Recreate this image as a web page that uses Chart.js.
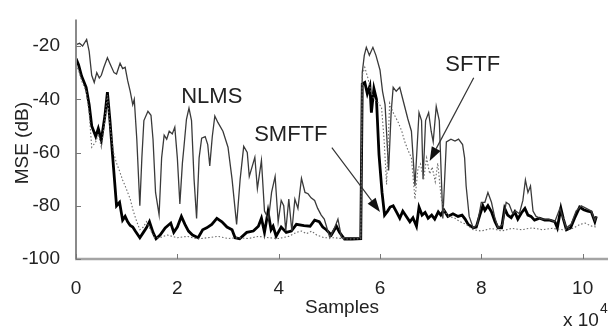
<!DOCTYPE html>
<html><head><meta charset="utf-8">
<script src="https://cdn.jsdelivr.net/npm/chart.js@4.4.1/dist/chart.umd.min.js"></script>
<style>html,body{margin:0;padding:0;background:#fff;overflow:hidden}canvas{display:block}</style>
</head><body>
<canvas id="c" width="615" height="329"></canvas>
<script>
// ---- data (x in units of 10^4 samples, y in dB) ----
const xTickValues = [0, 2, 4, 6, 8, 10];
const xTickLabels = ['0', '2', '4', '6', '8', '10'];
const yTickValues = [-100, -80, -60, -40, -20];
const yTickLabels = ['-100', '-80', '-60', '-40', '-20'];

const nlmsX = [0,0.07,0.13,0.21,0.26,0.31,0.36,0.41,0.46,0.5,0.55,0.62,0.68,0.75,0.8,0.87,0.92,0.97,1.02,1.07,1.12,1.15,1.2,1.26,1.3,1.34,1.42,1.48,1.52,1.57,1.64,1.69,1.74,1.79,1.84,1.9,1.95,2.0,2.05,2.1,2.13,2.18,2.23,2.28,2.33,2.38,2.43,2.48,2.55,2.6,2.64,2.69,2.74,2.8,2.9,3.0,3.08,3.17,3.24,3.31,3.38,3.42,3.53,3.58,3.66,3.72,3.8,3.86,3.93,3.99,4.05,4.1,4.14,4.2,4.26,4.32,4.38,4.45,4.52,4.58,4.64,4.71,4.77,4.84,4.9,5.01,5.11,5.17,5.24,5.62,5.65,5.69,5.73,5.79,5.86,5.92,6.0,6.05,6.1,6.17,6.22,6.26,6.32,6.39,6.45,6.55,6.62,6.69,6.77,6.82,6.85,6.9,6.96,7.01,7.05,7.11,7.17,7.24,7.31,7.4,7.48,7.55,7.63,7.67,7.7,7.76,7.84,7.92,8.0,8.07,8.13,8.2,8.26,8.33,8.42,8.49,8.55,8.62,8.68,8.75,8.82,8.87,8.92,8.97,9.02,9.08,9.2,9.33,9.45,9.55,9.62,9.68,9.77,9.87,9.97,10.07,10.17,10.24,10.27];
const nlmsY = [-19.5,-19,-20,-17.5,-22,-31,-33.7,-30,-32,-31,-28,-24.4,-27,-30,-30.5,-26.5,-28.5,-28,-33,-37,-42,-40,-55,-80,-62,-48,-44.5,-46,-55,-75,-83.4,-62,-53.5,-55,-52,-53,-50.5,-62,-79.3,-64,-58,-47.5,-43.3,-48,-70,-84.8,-62,-54.6,-54,-57,-65,-54,-46.3,-48.7,-52,-58,-70,-87,-70,-57.7,-60,-69,-61.8,-73.6,-63,-82,-85,-75,-69,-86,-78,-80,-89.5,-77.5,-89.5,-77.5,-81,-69.7,-75,-75.5,-77,-78,-81,-83.5,-85,-92,-88,-85,-92,-92,-30,-23.5,-20.5,-23.5,-20.5,-23.5,-29,-37,-42,-66.7,-45,-35.5,-37,-35.5,-40,-47.4,-52,-72.6,-45,-48,-70,-48,-45,-52,-56,-42.7,-48,-84.8,-56,-55,-55.7,-55,-57,-62,-72.6,-84,-88.3,-87,-78.7,-78.7,-75,-78.7,-84,-88.3,-87,-78.7,-79.5,-83,-82,-83,-78,-70.3,-75,-72.6,-82,-84,-85,-85,-86,-81,-85,-88.3,-87,-82,-80,-81,-82,-85.5,-84];

const smftfX = [0,0.05,0.11,0.2,0.26,0.31,0.39,0.44,0.5,0.57,0.62,0.67,0.74,0.8,0.86,0.92,0.97,1.02,1.07,1.12,1.17,1.26,1.33,1.39,1.45,1.52,1.58,1.66,1.76,1.87,1.93,2.0,2.08,2.15,2.22,2.3,2.41,2.5,2.58,2.68,2.78,2.88,2.98,3.08,3.14,3.23,3.37,3.5,3.6,3.66,3.72,3.79,3.85,3.89,3.95,4.05,4.15,4.25,4.35,4.5,4.62,4.71,4.8,4.87,4.94,5.04,5.14,5.2,5.3,5.45,5.62,5.65,5.7,5.75,5.8,5.83,5.88,5.93,5.98,6.04,6.09,6.15,6.2,6.26,6.33,6.39,6.45,6.52,6.59,6.65,6.72,6.77,6.83,6.89,6.95,7.02,7.08,7.15,7.2,7.26,7.34,7.44,7.54,7.62,7.68,7.74,7.84,7.9,7.97,8.03,8.07,8.13,8.2,8.27,8.33,8.4,8.46,8.52,8.59,8.66,8.72,8.79,8.86,8.92,8.98,9.05,9.15,9.25,9.35,9.45,9.5,9.57,9.62,9.68,9.76,9.84,9.94,10.02,10.1,10.17,10.24,10.27];
const smftfY = [-24.7,-27,-31.3,-35.5,-42,-50,-54,-51,-55.3,-46.3,-37.3,-48,-65.5,-80,-78.7,-85.4,-84,-86,-87.4,-88,-89.5,-92,-90,-88.3,-86,-90,-92.4,-91,-88.3,-86.5,-90,-88,-84,-87,-89.5,-91,-92,-89,-88.3,-87,-84.7,-86,-88,-89,-92,-92.4,-90,-89.5,-87.7,-84.7,-90,-82.3,-89,-87.7,-91.4,-88,-90,-89.5,-87,-87.5,-87.7,-85.4,-86,-88,-89,-91,-87.7,-90,-92.5,-92.5,-92.4,-34.3,-33.7,-37.9,-35,-45,-36,-40,-60.7,-75,-83.5,-82,-80.5,-80,-82.5,-84.7,-82,-84,-86,-84.5,-87.7,-80.5,-83.5,-82.5,-84.7,-83.5,-85,-82.3,-83.5,-81.6,-84,-83,-84,-83.5,-85,-87,-88.3,-88,-83.5,-80,-81.7,-80,-82.3,-86,-88.3,-88.3,-81,-83.5,-84.5,-82.3,-85,-82.7,-81,-83.5,-84,-85.4,-84.7,-85.4,-85.4,-86,-88.3,-81,-85,-89,-88.3,-84.7,-80.5,-81.5,-82,-82.3,-86,-84];

const sftfX = [0,0.05,0.11,0.2,0.26,0.31,0.39,0.44,0.5,0.57,0.62,0.67,0.74,0.8,0.86,0.92,0.98,1.07,1.13,1.2,1.26,1.33,1.39,1.47,1.55,1.66,1.8,2.0,2.2,2.4,2.6,2.8,3.0,3.2,3.4,3.6,3.8,4.0,4.2,4.35,4.45,4.55,4.65,4.75,4.9,5.1,5.3,5.62,5.65,5.7,5.76,5.82,5.88,5.95,6.03,6.08,6.13,6.19,6.26,6.36,6.43,6.49,6.55,6.62,6.69,6.75,6.8,6.86,6.92,6.98,7.03,7.09,7.14,7.21,7.27,7.36,7.48,7.58,7.7,7.84,8.0,8.2,8.4,8.6,8.8,9.0,9.2,9.4,9.6,9.8,9.95,10.05,10.15,10.27];
const sftfY = [-27,-29,-33,-37,-45,-58,-56,-53,-58,-48,-38.5,-50,-60,-64,-67,-70.3,-73,-77.5,-82,-86,-89,-88,-86,-89,-92,-92,-91,-92,-91.5,-92.5,-92,-91.5,-92.3,-92,-92.3,-91.5,-92,-92.3,-91.5,-90,-89.5,-90.5,-89.5,-91,-92,-92,-92.5,-92.4,-31,-28,-32,-37,-40,-41,-43,-55,-72,-41.5,-45,-48.7,-52,-56,-59,-62,-77.5,-66,-64.3,-70.3,-62,-68,-65.5,-71,-64,-77.5,-82,-84,-84.7,-86,-87,-89,-89.5,-88.5,-89.5,-88.5,-89,-88.3,-89,-88.5,-89,-88.5,-87,-86.5,-87.5,-88];

// annotation anchors (data coordinates)
const labels = [
  {text: 'NLMS',  x: 2.68, y: -39},
  {text: 'SMFTF', x: 4.24, y: -53.5},
  {text: 'SFTF',  x: 7.83, y: -27.2}
];
const arrows = [
  {x0: 5.05, y0: -58.2, x1: 6.0, y1: -82.3},
  {x0: 7.85, y0: -31.9, x1: 6.98, y1: -63.2}
];

const pts = (xs, ys) => xs.map((v, i) => ({x: v, y: ys[i]}));
const FONT = '"Liberation Sans", Arial, sans-serif';

const deco = {
  id: 'deco',
  afterDraw(chart) {
    const {ctx, chartArea: a, scales: {x, y}} = chart;
    ctx.save();
    // axes
    ctx.strokeStyle = '#a4a4a4'; ctx.lineWidth = 2.5;
    ctx.beginPath(); ctx.moveTo(a.left - 1, a.bottom); ctx.lineTo(a.right, a.bottom); ctx.stroke();
    ctx.strokeStyle = '#8a8a8a'; ctx.lineWidth = 2;
    ctx.beginPath(); ctx.moveTo(a.left, a.top); ctx.lineTo(a.left, a.bottom); ctx.stroke();
    // inward ticks
    ctx.strokeStyle = '#777'; ctx.lineWidth = 1;
    xTickValues.forEach(v => { const px = Math.round(x.getPixelForValue(v)) + 0.5;
      ctx.beginPath(); ctx.moveTo(px, a.bottom); ctx.lineTo(px, a.bottom - 5); ctx.stroke(); });
    yTickValues.forEach(v => { const py = Math.round(y.getPixelForValue(v)) + 0.5;
      ctx.beginPath(); ctx.moveTo(a.left, py); ctx.lineTo(a.left + 5, py); ctx.stroke(); });
    // annotation labels
    ctx.fillStyle = '#222';
    ctx.font = '22px ' + FONT; ctx.textAlign = 'center'; ctx.textBaseline = 'middle';
    labels.forEach(l => ctx.fillText(l.text, x.getPixelForValue(l.x), y.getPixelForValue(l.y)));
    // arrows
    arrows.forEach(r => {
      const x0 = x.getPixelForValue(r.x0), y0 = y.getPixelForValue(r.y0);
      const x1 = x.getPixelForValue(r.x1), y1 = y.getPixelForValue(r.y1);
      const ang = Math.atan2(y1 - y0, x1 - x0), L = 14, W = 5;
      ctx.strokeStyle = '#333'; ctx.lineWidth = 1.2;
      ctx.beginPath(); ctx.moveTo(x0, y0);
      ctx.lineTo(x1 - L * Math.cos(ang), y1 - L * Math.sin(ang)); ctx.stroke();
      ctx.fillStyle = '#111';
      ctx.beginPath(); ctx.moveTo(x1, y1);
      ctx.lineTo(x1 - L * Math.cos(ang) + W * Math.sin(ang), y1 - L * Math.sin(ang) - W * Math.cos(ang));
      ctx.lineTo(x1 - L * Math.cos(ang) - W * Math.sin(ang), y1 - L * Math.sin(ang) + W * Math.cos(ang));
      ctx.closePath(); ctx.fill();
    });
    // axis titles
    ctx.fillStyle = '#222';
    ctx.font = '19px ' + FONT; ctx.textAlign = 'center'; ctx.textBaseline = 'middle';
    ctx.fillText('Samples', (a.left + a.right) / 2, 308);
    ctx.save(); ctx.translate(23, (a.top + a.bottom) / 2 + 4); ctx.rotate(-Math.PI / 2);
    ctx.fillText('MSE (dB)', 0, 0); ctx.restore();
    // exponent
    ctx.textAlign = 'left'; ctx.textBaseline = 'alphabetic';
    ctx.fillText('x 10', 563, 326);
    ctx.font = '14px ' + FONT; ctx.fillText('4', 600, 313);
    ctx.restore();
  }
};

new Chart(document.getElementById('c'), {
  type: 'line',
  data: {
    datasets: [
      {label: 'SFTF', data: pts(sftfX, sftfY), borderColor: '#6a6a6a', borderWidth: 1.1, borderDash: [1.5, 2], pointRadius: 0, tension: 0},
      {label: 'NLMS', data: pts(nlmsX, nlmsY), borderColor: '#3a3a3a', borderWidth: 1.3, pointRadius: 0, tension: 0},
      {label: 'SMFTF', data: pts(smftfX, smftfY), borderColor: '#000', borderWidth: 2.8, pointRadius: 0, tension: 0}
    ]
  },
  options: {
    responsive: false, animation: false, devicePixelRatio: 1,
    layout: {padding: {left: 0, right: 7, top: 8, bottom: 0}},
    plugins: {legend: {display: false}, tooltip: {enabled: false}},
    scales: {
      x: {
        type: 'linear', min: 0, max: 10.5,
        grid: {display: false}, border: {display: false},
        afterBuildTicks: s => { s.ticks = xTickValues.map(v => ({value: v})); },
        afterFit: s => { s.height = 70; },
        ticks: {padding: 10, color: '#222', font: {family: FONT, size: 19}, maxRotation: 0,
          callback: (v) => xTickLabels[xTickValues.indexOf(v)]}
      },
      y: {
        type: 'linear', min: -100, max: -10,
        grid: {display: false}, border: {display: false},
        afterBuildTicks: s => { s.ticks = yTickValues.map(v => ({value: v})); },
        afterFit: s => { s.width = 76; },
        ticks: {padding: 8, color: '#222', font: {family: FONT, size: 19},
          callback: (v) => yTickLabels[yTickValues.indexOf(v)]}
      }
    }
  },
  plugins: [deco]
});
</script>
</body></html>
